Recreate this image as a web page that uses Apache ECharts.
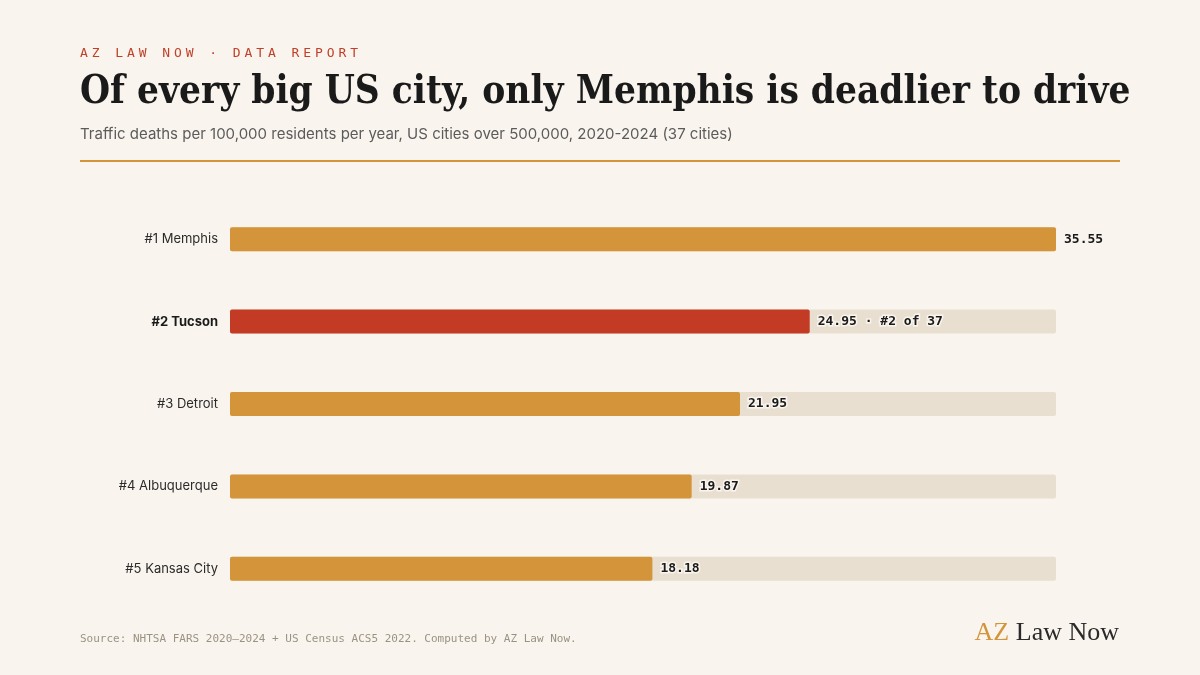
<!DOCTYPE html>
<html>
<head>
<meta charset="utf-8">
<script src="https://cdn.jsdelivr.net/npm/echarts@6/dist/echarts.min.js"></script>
<style>
  html, body { margin: 0; padding: 0; background: #F9F5EE; }
  #chart { width: 1200px; height: 675px; }
</style>
</head>
<body>
<div id="chart"></div>
<script>
'use strict';

// data
const cities = ['Memphis', 'Tucson', 'Detroit', 'Albuquerque', 'Kansas City'];
const ranks = [1, 2, 3, 4, 5];
const deathRates = [35.55, 24.95, 21.95, 19.87, 18.18];
const highlightCity = 'Tucson';
const totalCities = 37;

const BG = '#F9F5EE';
const GOLD = '#D4953A';
const RED = '#C33B24';
const TRACK = '#E8DFD0';
const MONO = '"DejaVu Sans Mono", "Liberation Mono", monospace';
const SANS = 'Inter, "Noto Sans", sans-serif';
const SERIF = '"DejaVu Serif Condensed", "DejaVu Serif", Georgia, serif';

const maxRate = Math.max(...deathRates);
const labels = cities.map((c, i) => `#${ranks[i]} ${c}`);

const titleText = 'Of every big US city, only Memphis is deadlier to drive';
// size the headline so it spans the text column (80 -> 1132)
const ctx = document.createElement('canvas').getContext('2d');
ctx.font = 'bold 40px ' + SERIF;
const titleSize = Math.min(44, Math.floor(40 * 1052 / ctx.measureText(titleText).width * 10) / 10);

const kicker = 'AZ LAW NOW · DATA REPORT';
const kickerText = kicker.split('').map((ch, i) => ({
    type: 'text',
    left: 80 + i * 11.75,
    top: 47,
    style: { text: ch, fill: '#C0412A', font: '13px ' + MONO }
}));

const chart = echarts.init(document.getElementById('chart'));
chart.setOption({
    backgroundColor: BG,
    animation: false,
    grid: { left: 230, right: 144, top: 198, bottom: 65 },
    xAxis: { type: 'value', min: 0, max: maxRate, show: false },
    yAxis: {
        type: 'category',
        inverse: true,
        data: labels,
        axisLine: { show: false },
        axisTick: { show: false },
        axisLabel: {
            margin: 12,
            fontFamily: SANS,
            fontSize: 13,
            color: '#2b2b2b',
            formatter: (v) => v.endsWith(highlightCity) ? `{hl|${v}}` : v,
            rich: { hl: { fontFamily: SANS, fontSize: 13, fontWeight: 'bold', color: '#1a1a1a' } }
        }
    },
    series: [
        {
            // background track
            type: 'bar',
            silent: true,
            barWidth: 24,
            barGap: '-100%',
            data: deathRates.map(() => maxRate),
            itemStyle: { color: TRACK, borderRadius: 2 },
            z: 1
        },
        {
            type: 'bar',
            barWidth: 24,
            data: deathRates.map((v, i) => ({
                value: v,
                itemStyle: { color: cities[i] === highlightCity ? RED : GOLD }
            })),
            itemStyle: { borderRadius: 2 },
            label: {
                show: true,
                position: 'right',
                distance: 8,
                fontFamily: MONO,
                fontSize: 13,
                fontWeight: 'bold',
                color: '#1a1a1a',
                textBorderColor: BG,
                textBorderWidth: 3,
                formatter: (p) => cities[p.dataIndex] === highlightCity
                    ? `${p.value.toFixed(2)} · #${ranks[p.dataIndex]} of ${totalCities}`
                    : p.value.toFixed(2)
            },
            z: 2
        }
    ],
    graphic: [
        ...kickerText,
        {
            type: 'text', left: 80, top: 110 - titleSize * 0.93,
            style: {
                text: titleText,
                fill: '#1a1a1a',
                font: `bold ${titleSize}px ${SERIF}`
            }
        },
        {
            type: 'text', left: 80, top: 127,
            style: {
                text: 'Traffic deaths per 100,000 residents per year, US cities over 500,000, 2020-2024 (37 cities)',
                fill: '#5b5b5b',
                font: '15px ' + SANS
            }
        },
        {
            type: 'rect',
            shape: { x: 80, y: 160, width: 1040, height: 2 },
            style: { fill: GOLD }
        },
        {
            type: 'text', left: 80, top: 634,
            style: {
                text: 'Source: NHTSA FARS 2020–2024 + US Census ACS5 2022. Computed by AZ Law Now.',
                fill: '#9a9284',
                font: '11px ' + MONO
            }
        },
        {
            type: 'text', right: 81, top: 620,
            style: {
                rich: {
                    az: { fill: GOLD, font: '26px "Liberation Serif", serif' },
                    rest: { fill: '#2a2a2a', font: '26px "Liberation Serif", serif' }
                },
                text: '{az|AZ}{rest| Law Now}'
            }
        }
    ]
});
</script>
</body>
</html>
